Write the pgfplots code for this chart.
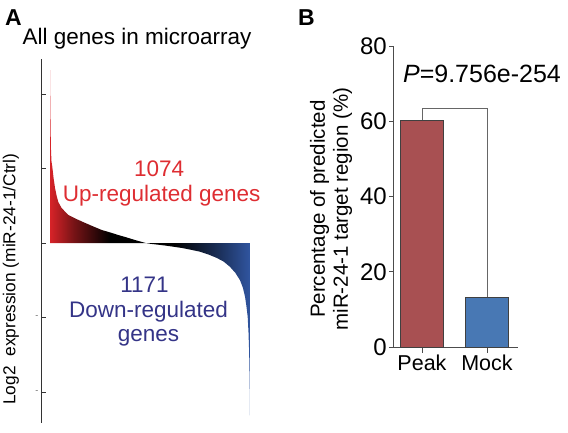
\documentclass[border=0pt]{standalone}
\usepackage{pgfplots}
\pgfplotsset{compat=1.18}
\usepackage{fontspec}
\setmainfont{Liberation Sans}
\definecolor{upred}{RGB}{215,35,40}
\definecolor{downblue}{RGB}{48,85,160}
\definecolor{txtred}{RGB}{222,45,50}
\definecolor{txtblue}{RGB}{52,52,135}
\definecolor{peakc}{RGB}{168,80,82}
\definecolor{mockc}{RGB}{72,120,180}
\pgfdeclarehorizontalshading{updown}{100bp}{color(0bp)=(upred); color(25bp)=(upred); color(31bp)=(upred!55!black); color(40bp)=(black); color(56bp)=(black); color(67bp)=(downblue!55!black); color(75bp)=(downblue); color(100bp)=(downblue)}
\pgfplotstableread{
r y
0 0
0 2.32
2 2.05
4 1.8
7 1.5
11 1.25
16 1.1
26 1.02
40 0.87
56 0.74
75 0.63
93 0.55
130 0.47
170 0.42
206 0.376
300 0.32
393 0.27
490 0.22
580 0.175
680 0.14
767 0.107
860 0.075
954 0.04
1020 0.018
1074 0.0
1123 -0.01
1300 -0.035
1482 -0.067
1580 -0.09
1684 -0.117
1780 -0.155
1871 -0.2
1950 -0.25
2020 -0.32
2080 -0.4
2133 -0.5
2165 -0.6
2189 -0.72
2205 -0.85
2219 -0.99
2228 -1.2
2235 -1.45
2239 -1.7
2242 -1.95
2245 -2.33
2245 0
}\genes
\begin{document}
\begin{tikzpicture}
\useasboundingbox (0,0) rectangle (568pt,433pt);
% Panel A
\begin{axis}[
  at={(42pt,10pt)}, anchor=south west, scale only axis,
  width=213pt, height=364pt,
  xmin=-90, xmax=2301, ymin=-2.416, ymax=2.47,
  axis x line=none, axis y line*=left,
  axis line style={black!80, line width=1pt},
  ytick={-2,-1,0,1,2}, yticklabels={-,-,,,},
  tick align=inside, major tick length=4pt,
  ytick style={black!80, line width=0.8pt},
  yticklabel style={font=\fontsize{9}{10}\selectfont, text=black!60},
  clip=false,
  ylabel={Log2\ \ expression (miR-24-1/Ctrl)},
  ylabel style={at={(axis description cs:-0.1455,0.395)}, anchor=center, font=\fontsize{17.3}{21}\selectfont},
]
\addplot[draw=none, shading=updown] table[x=r, y=y] {\genes} -- cycle;
\node[text=txtred, font=\fontsize{22.5}{27}\selectfont] at (axis cs:1224,0.993) {1074};
\node[text=txtred, font=\fontsize{22.5}{27}\selectfont] at (axis cs:1254,0.631) {Up-regulated genes};
\node[text=txtblue, font=\fontsize{22.5}{27}\selectfont] at (axis cs:1061,-0.564) {1171};
\node[text=txtblue, font=\fontsize{22.5}{27}\selectfont] at (axis cs:1106,-0.926) {Down-regulated};
\node[text=txtblue, font=\fontsize{22.5}{27}\selectfont] at (axis cs:1106,-1.275) {genes};
\end{axis}
% Panel B
\begin{axis}[
  at={(393pt,86pt)}, anchor=south west, scale only axis,
  width=125pt, height=301pt,
  xmin=-0.446, xmax=1.477, ymin=0, ymax=80,
  axis lines*=left, axis line style={black!70, line width=0.8pt},
  xtick={0,1}, xticklabels={Peak,Mock},
  ytick={0,20,40,60,80},
  tick align=outside, major tick length=4pt,
  xtick style={/pgfplots/major tick length=6pt},
  tick style={black!70, line width=0.8pt},
  /pgf/number format/assume math mode=true,
  yticklabel style={font=\fontsize{24}{28}\selectfont, inner sep=2pt},
  xticklabel style={font=\fontsize{21.5}{25}\selectfont},
  clip=false,
  ylabel={Percentage of predicted\\miR-24-1 target region (\%)},
  ylabel style={align=center, at={(axis description cs:-0.496,0.458)}, anchor=center, font=\fontsize{20.5}{23}\selectfont},
]
\addplot[ybar, bar width=43pt, fill=peakc, draw=black!75, line width=0.8pt] coordinates {(0,60.2)};
\addplot[ybar, bar width=43pt, fill=mockc, draw=black!75, line width=0.8pt] coordinates {(1,13.2)};
\addplot[sharp plot, mark=none, black!60, line width=0.8pt] coordinates {(0,60.2) (0,63.4) (1,63.4) (1,13.2)};
\node[font=\fontsize{25}{30}\selectfont] at (axis cs:0.923,72.6) {\textit{P}=9.756e-254};
\end{axis}
\node[font=\fontsize{22.5}{27}\selectfont] at (137pt,394pt) {All genes in microarray};
\node[font=\bfseries\fontsize{23}{27}\selectfont] at (13.5pt,415.5pt) {A};
\node[font=\bfseries\fontsize{23}{27}\selectfont] at (306.5pt,415.5pt) {B};
\end{tikzpicture}
\end{document}
